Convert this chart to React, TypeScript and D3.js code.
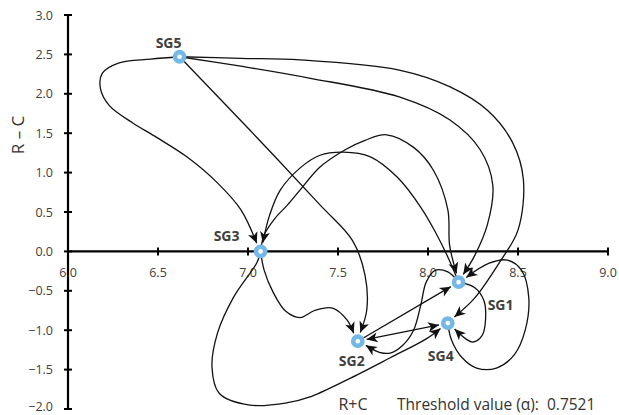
import React from "react";
import * as d3 from "d3";

// axis ticks
const xTicks = [6, 6.5, 7, 7.5, 8, 8.5, 9];
const yTicks = [3, 2.5, 2, 1.5, 1, 0.5, 0, -0.5, -1, -1.5, -2];

// sub-groups: prominence (R+C) and relation (R-C)
const groups = ["SG1", "SG2", "SG3", "SG4", "SG5"];
const rPlusC = [8.17, 7.61, 7.07, 8.11, 6.62];
const rMinusC = [-0.39, -1.14, 0.0, -0.91, 2.47];

const threshold = 0.7521;

// influence arrows (from -> to), bends in data units
const edges = [
  { from: "SG5", to: "SG3", via: [[6.46, 2.44], [6.28, 2.39], [6.19, 2.26], [6.18, 2.07], [6.23, 1.85], [6.36, 1.63], [6.49, 1.45], [6.66, 1.2], [6.83, 0.87], [6.96, 0.53]] },
  { from: "SG5", to: "SG4", via: [[6.96, 2.45], [7.29, 2.43], [7.84, 2.3], [8.12, 2.09], [8.33, 1.79], [8.47, 1.38], [8.53, 0.91], [8.5, 0.27], [8.4, -0.13], [8.26, -0.59]] },
  { from: "SG5", to: "SG1", via: [[6.96, 2.35], [7.34, 2.2], [7.84, 1.96], [8.12, 1.67], [8.29, 1.29], [8.36, 0.84], [8.33, 0.34], [8.26, -0.05]] },
  { from: "SG5", to: "SG2", via: [[7.01, 1.54], [7.4, 0.59], [7.58, 0.14], [7.65, -0.3], [7.66, -0.74]] },
  { from: "SG1", to: "SG3", via: [[8.11, -0.07], [8.04, 0.25], [7.96, 0.56], [7.83, 0.94], [7.68, 1.2], [7.53, 1.26], [7.4, 1.22], [7.29, 1.06], [7.18, 0.78], [7.12, 0.46]] },
  { from: "SG3", to: "SG1", via: [[7.09, 0.21], [7.15, 0.42], [7.22, 0.59], [7.29, 0.78], [7.4, 1.07], [7.54, 1.29], [7.65, 1.41], [7.77, 1.48], [7.92, 1.32], [8.03, 1.03], [8.11, 0.53], [8.12, 0.08]] },
  { from: "SG3", to: "SG2", via: [[7.09, -0.24], [7.14, -0.52], [7.21, -0.76], [7.29, -0.84], [7.37, -0.75], [7.47, -0.72], [7.55, -0.87]] },
  { from: "SG3", to: "SG4", via: [[7.05, -0.14], [6.92, -0.58], [6.83, -1.04], [6.8, -1.47], [6.84, -1.8], [7.01, -1.95], [7.22, -1.92], [7.34, -1.85], [7.55, -1.63], [7.79, -1.35], [7.99, -1.11]] },
  { from: "SG2", to: "SG4", via: [], both: true },
  { from: "SG2", to: "SG1", via: [] },
  { from: "SG1", to: "SG2", via: [[8.11, -0.26], [8.04, -0.24], [7.99, -0.39], [7.96, -0.68], [7.92, -1.0], [7.86, -1.19], [7.79, -1.29], [7.73, -1.28]] },
  { from: "SG1", to: "SG4", via: [[8.26, -0.46], [8.31, -0.62], [8.32, -0.86], [8.3, -1.07], [8.25, -1.15], [8.21, -1.11]] },
  { from: "SG4", to: "SG1", via: [[8.13, -1.12], [8.19, -1.35], [8.27, -1.48], [8.38, -1.48], [8.48, -1.31], [8.54, -1.0], [8.56, -0.59], [8.52, -0.24], [8.44, -0.11], [8.34, -0.15]] },
];

// label offsets from node centre (px)
const labelPos = {
  SG1: [42, 28],
  SG2: [-6, 25],
  SG3: [-34, -10],
  SG4: [-7, 38],
  SG5: [-11, -9],
};

const W = 619, H = 415;
const font = "'Open Sans', sans-serif";

export default function App() {
  const x = d3.scaleLinear().domain([6, 9]).range([68, 608]);
  const y = d3.scaleLinear().domain([-2, 3]).range([409, 15]);
  const fmt = d3.format(".1f");
  const line = d3.line().curve(d3.curveCatmullRom.alpha(0.5));

  const pos = {};
  groups.forEach((g, i) => (pos[g] = [x(rPlusC[i]), y(rMinusC[i])]));

  const unit = (a, b) => {
    const dx = b[0] - a[0], dy = b[1] - a[1];
    const l = Math.hypot(dx, dy) || 1;
    return [dx / l, dy / l];
  };

  const paths = edges.map((e, i) => {
    const a = pos[e.from], b = pos[e.to];
    const pts = e.via.map(([vx, vy]) => [x(vx), y(vy)]);
    const last = pts.length ? pts[pts.length - 1] : a;
    const u = unit(b, last);
    const tip = [b[0] + u[0] * 9, b[1] + u[1] * 9];
    let start = a;
    if (e.both) {
      const v = unit(a, b);
      start = [a[0] + v[0] * 9, a[1] + v[1] * 9];
    }
    return (
      <path
        key={i}
        d={line([start, ...pts, tip])}
        fill="none"
        stroke="#111"
        strokeWidth={1.3}
        markerEnd="url(#ah)"
        markerStart={e.both ? "url(#ah)" : undefined}
      />
    );
  });

  return (
    <svg width={W} height={H} style={{ position: "absolute", left: 0, top: 0, background: "#fff" }}>
      <defs>
        <marker id="ah" viewBox="-12 -6 13 12" refX={0} refY={0} markerWidth={13} markerHeight={12}
          markerUnits="userSpaceOnUse" orient="auto-start-reverse">
          <path d="M0,0 L-11,-5 L-8,0 L-11,5 Z" fill="#111" />
        </marker>
      </defs>

      {/* axes */}
      <line x1={x(6)} x2={x(9)} y1={y(0)} y2={y(0)} stroke="#000" strokeWidth={2.2} />
      <line x1={x(6)} x2={x(6)} y1={y(3)} y2={y(-2)} stroke="#000" strokeWidth={2.2} />
      {xTicks.map((t) => (
        <g key={"x" + t}>
          <line x1={x(t)} x2={x(t)} y1={y(0) - 4} y2={y(0) + 4} stroke="#000" strokeWidth={2} />
          <text x={x(t)} y={y(0) + 26} textAnchor="middle" fontSize={12.5} fontFamily={font} fill="#404040">
            {fmt(t)}
          </text>
        </g>
      ))}
      {yTicks.map((t) => (
        <g key={"y" + t}>
          <line x1={x(6) - 4} x2={x(6) + 4} y1={y(t)} y2={y(t)} stroke="#000" strokeWidth={2} />
          <text x={x(6) - 15} y={Math.min(y(t) + 4.5, 411)} textAnchor="end" fontSize={12.5} fontFamily={font} fill="#404040">
            {fmt(t)}
          </text>
        </g>
      ))}

      {paths}

      {groups.map((g) => (
        <g key={g}>
          <circle cx={pos[g][0]} cy={pos[g][1]} r={4.6} fill="#fff" stroke="#74b9e6" strokeWidth={4.6} />
          <text x={pos[g][0] + labelPos[g][0]} y={pos[g][1] + labelPos[g][1]} textAnchor="middle"
            fontSize={14} fontWeight="bold" fontFamily={font} fill="#404040">
            {g}
          </text>
        </g>
      ))}

      <text transform="translate(18,135) rotate(-90)" textAnchor="middle" dy="0.35em" fontSize={17} fontFamily={font} fill="#333">
        R – C
      </text>
      <text x={353} y={410} textAnchor="middle" fontSize={16} fontFamily={font} fill="#333">R+C</text>
      <text x={397} y={410} fontSize={15.5} fontFamily={font} fill="#333" xmlSpace="preserve">
        {`Threshold value (α):  ${threshold}`}
      </text>
    </svg>
  );
}
